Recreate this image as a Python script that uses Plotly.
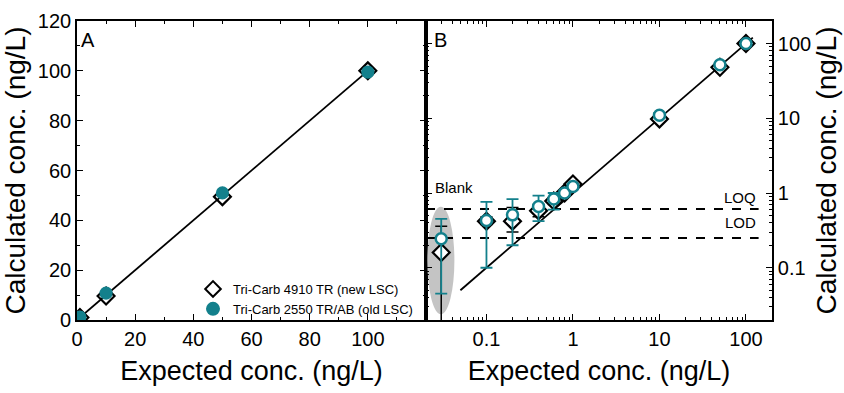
import plotly.graph_objects as go

# ---------------- data ----------------
# Panel A (linear)
a_expected = [1, 10, 50, 100]
a_new = [1.0, 9.6, 49.5, 100.0]
a_old = [1.2, 10.8, 51.0, 99.5]
a_fit_x = [0, 100]

# Panel B (log)
b_expected = [0.03, 0.1, 0.2, 0.4, 0.6, 0.8, 1, 10, 50, 100]   # first = blank
b_new = [0.16, 0.42, 0.42, 0.58, 0.78, 1.0, 1.32, 9.8, 48, 100]
b_new_hi = [0.36, 0.48, 0.64, 0.70, 0.86, 1.05, 1.42, 10.3, 50, 104]
b_new_lo = [0.001, 0.38, 0.30, 0.48, 0.70, 0.95, 1.22, 9.3, 46, 96]
b_old = [0.245, 0.43, 0.51, 0.66, 0.83, 1.0, 1.22, 11, 52, 100]
b_old_hi = [0.45, 0.76, 0.83, 0.92, 1.0, 1.08, 1.32, 11.8, 54, 105]
b_old_lo = [0.045, 0.10, 0.20, 0.42, 0.60, 0.92, 1.12, 10.2, 50, 95]
b_fit_x = [0.05, 120]
LOQ = 0.61
LOD = 0.25
blank_region_x = [0.0207, 0.0426]
blank_region_y = [0.0238, 0.656]

TEAL = "#13808c"
FONT = "Liberation Sans, Arial, sans-serif"

fig = go.Figure()

# ---------- panel A ----------
fig.add_trace(go.Scatter(x=a_fit_x, y=a_fit_x, mode="lines",
                         line=dict(color="black", width=1.8),
                         xaxis="x", yaxis="y", showlegend=False))
fig.add_trace(go.Scatter(x=a_expected, y=a_new, mode="markers",
                         name="Tri-Carb 4910 TR (new LSC)",
                         marker=dict(symbol="diamond-open", size=13, color="black",
                                     line=dict(width=2.2, color="black")),
                         xaxis="x", yaxis="y"))
fig.add_trace(go.Scatter(x=a_expected, y=a_old, mode="markers",
                         name="Tri-Carb 2550 TR/AB (old LSC)",
                         marker=dict(symbol="circle", size=11, color=TEAL,
                                     line=dict(width=2.2, color=TEAL)),
                         xaxis="x", yaxis="y"))

# ---------- panel B ----------
fig.add_trace(go.Scatter(x=[b_fit_x[0], b_fit_x[1]], y=b_fit_x, mode="lines",
                         line=dict(color="black", width=1.8),
                         xaxis="x2", yaxis="y2", showlegend=False))
for lvl in (LOQ, LOD):
    fig.add_trace(go.Scatter(x=[0.02, 140], y=[lvl, lvl], mode="lines",
                             line=dict(color="black", width=2, dash="dash"),
                             xaxis="x2", yaxis="y2", showlegend=False))

fig.add_trace(go.Scatter(
    x=b_expected, y=b_new, mode="markers", showlegend=False,
    marker=dict(symbol="diamond", size=13, color="white",
                line=dict(width=2.2, color="black")),
    error_y=dict(type="data", symmetric=False,
                 array=[h - v for h, v in zip(b_new_hi, b_new)],
                 arrayminus=[v - l for l, v in zip(b_new_lo, b_new)],
                 color="black", thickness=1.5, width=6),
    xaxis="x2", yaxis="y2"))
fig.add_trace(go.Scatter(
    x=b_expected, y=b_old, mode="markers", showlegend=False,
    marker=dict(symbol="circle", size=11, color="white",
                line=dict(width=2.5, color=TEAL)),
    error_y=dict(type="data", symmetric=False,
                 array=[h - v for h, v in zip(b_old_hi, b_old)],
                 arrayminus=[v - l for l, v in zip(b_old_lo, b_old)],
                 color=TEAL, thickness=1.8, width=6),
    xaxis="x2", yaxis="y2"))

# gray ellipse for blank
fig.add_shape(type="circle", xref="x2", yref="y2",
              x0=blank_region_x[0], x1=blank_region_x[1],
              y0=blank_region_y[0], y1=blank_region_y[1],
              fillcolor="#c4c4c4", line=dict(width=0), layer="below")

# ---------- axes ----------
XA = [77 / 844, 426 / 844]
XB = [426 / 844, 772 / 844]
YD = [(393 - 320) / 393, (393 - 21) / 393]
tickfont = dict(family=FONT, size=20, color="black")
common = dict(showline=True, linecolor="black", linewidth=1.6, mirror="ticks",
              ticks="inside", ticklen=6, tickwidth=1.4, tickcolor="black",
              showgrid=False, zeroline=False, tickfont=tickfont, automargin=False)

fig.update_layout(
    width=844, height=393,
    margin=dict(l=0, r=0, t=0, b=0, autoexpand=False),
    paper_bgcolor="white", plot_bgcolor="rgba(0,0,0,0)",
    font=dict(family=FONT, color="black"),
    xaxis=dict(domain=XA, range=[0, 120], tickvals=[0, 20, 40, 60, 80, 100],
               minor=dict(ticks="inside", ticklen=3, tickcolor="black", dtick=10),
               anchor="y",
               title=dict(text="Expected conc. (ng/L)", font=dict(size=27), standoff=12),
               **common),
    yaxis=dict(domain=YD, range=[0, 120], tickvals=[0, 20, 40, 60, 80, 100, 120],
               minor=dict(ticks="inside", ticklen=3, tickcolor="black", dtick=10),
               anchor="x",
               title=dict(text="Calculated conc. (ng/L)", font=dict(size=28), standoff=4),
               **common),
    xaxis2=dict(domain=XB, type="log", range=[-1.699, 2.301],
                tickvals=[0.1, 1, 10, 100], ticktext=["0.1", "1", "10", "100"],
                minor=dict(ticks="inside", ticklen=3, tickcolor="black",
                           tickvals=[m * 10 ** e for e in (-2, -1, 0, 1, 2) for m in range(2, 10)]),
                anchor="y2",
                title=dict(text="Expected conc. (ng/L)", font=dict(size=27), standoff=12),
                **common),
    yaxis2=dict(domain=YD, type="log", range=[-1.699, 2.301], side="right",
                tickvals=[0.1, 1, 10, 100], ticktext=["0.1", "1", "10", "100"],
                minor=dict(ticks="inside", ticklen=3, tickcolor="black",
                           tickvals=[m * 10 ** e for e in (-2, -1, 0, 1, 2) for m in range(2, 10)]),
                anchor="x2",
                title=dict(text="Calculated conc. (ng/L)", font=dict(size=28), standoff=6),
                **common),
    legend=dict(x=193 / 844, y=(393 - 274) / 393, xanchor="left", yanchor="top",
                bgcolor="rgba(0,0,0,0)", font=dict(family=FONT, size=13, color="black"),
                tracegroupgap=0, itemsizing="constant"),
)

ann = [
    dict(text="A", x=88 / 844, y=(393 - 40) / 393, size=20),
    dict(text="B", x=440 / 844, y=(393 - 40) / 393, size=20),
    dict(text="Blank", x=454 / 844, y=(393 - 187) / 393, size=15),
]
for a in ann:
    fig.add_annotation(text=a["text"], x=a["x"], y=a["y"], xref="paper", yref="paper",
                       showarrow=False, font=dict(family=FONT, size=a["size"], color="black"),
                       xanchor="center", yanchor="middle")
fig.add_annotation(text="LOQ", x=758 / 844, y=(393 - 197) / 393, xref="paper", yref="paper",
                   showarrow=False, xanchor="right", yanchor="middle",
                   font=dict(family=FONT, size=15, color="black"))
fig.add_annotation(text="LOD", x=758 / 844, y=(393 - 222) / 393, xref="paper", yref="paper",
                   showarrow=False, xanchor="right", yanchor="middle",
                   font=dict(family=FONT, size=15, color="black"))

fig.write_html("out.html")
